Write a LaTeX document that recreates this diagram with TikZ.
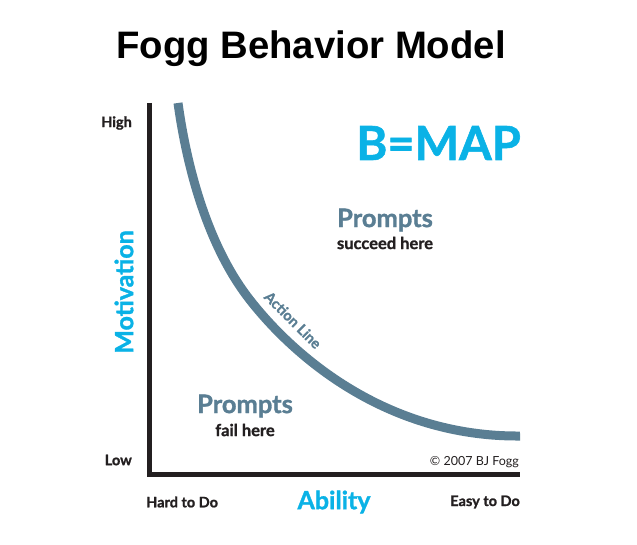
\documentclass[tikz,border=0pt]{standalone}
\usepackage{fontspec}
\setmainfont{Lato}[BoldFeatures={FakeBold=1.2}]
\newfontfamily\titlefont{Liberation Sans}
\definecolor{fbmcyan}{HTML}{0AB2E6}
\definecolor{fbmslate}{HTML}{5A7E93}
\definecolor{fbmink}{HTML}{231F20}
\begin{document}
\begin{tikzpicture}[x=1pt,y=-1pt,
  axislabel/.style={font=\bfseries\fontsize{14.5}{16}\selectfont, text=fbmink, inner sep=0pt},
  bigcyan/.style={font=\bfseries\fontsize{25}{28}\selectfont, text=fbmcyan, inner sep=0pt},
  prompts/.style={font=\bfseries\fontsize{25.5}{28}\selectfont, text=fbmslate, inner sep=0pt},
  subnote/.style={font=\bfseries\fontsize{16.5}{18}\selectfont, text=fbmink, inner sep=0pt},
  axisline/.style={line width=5pt, draw=fbmink},
  actionline/.style={line width=9pt, draw=fbmslate}]
  \useasboundingbox (0,0) rectangle (637,545);

  % title
  \node[font=\titlefont\bfseries\fontsize{38.3}{42}\selectfont, inner sep=0pt] (title) at (311,49) {Fogg Behavior Model};

  % axes
  \coordinate (top) at (149,103);
  \coordinate (origin) at (149,474);
  \coordinate (right) at (520,474);
  \draw[axisline] (top) -- (origin.center) -- (right);

  % action line: two joined cubic segments
  \coordinate (al0) at (178,103);
  \coordinate (al1) at (250,300);
  \coordinate (al2) at (520,436);
  \draw[actionline] (al0) .. controls (189,182) and (213,253) .. (al1)
                          .. controls (293,355) and (385,437) .. (al2);
  \node[font=\bfseries\fontsize{14.5}{16}\selectfont, text=fbmslate, rotate=-45, inner sep=0pt] (action) at (293,320) {Action Line};

  % axis labels
  \node[axislabel, anchor=east] (high) at (132,123) {High};
  \node[axislabel, anchor=east] (low) at (132,460) {Low};
  \node[axislabel, anchor=west] (hard) at (146,502) {Hard to Do};
  \node[axislabel, anchor=east] (easy) at (520,502) {Easy to Do};
  \node[bigcyan] (ability) at (334,502) {Ability};
  \node[bigcyan, rotate=90] (motivation) at (124,292) {Motivation};

  % formula
  \node[font=\bfseries\fontsize{47}{52}\selectfont, text=fbmcyan, inner sep=0pt, anchor=east] (bmap) at (521,143) {B=MAP};

  % regions
  \node[prompts] (pup) at (385,220) {Prompts};
  \node[subnote] (succeed) at (385,243) {succeed here};
  \node[prompts] (plow) at (245,406) {Prompts};
  \node[subnote] (fail) at (245,430) {fail here};

  % copyright
  \node[font=\fontsize{12.5}{14}\selectfont, text=fbmink, inner sep=0pt, anchor=east] (copy) at (519,462) {© 2007 BJ Fogg};
\end{tikzpicture}
\end{document}
